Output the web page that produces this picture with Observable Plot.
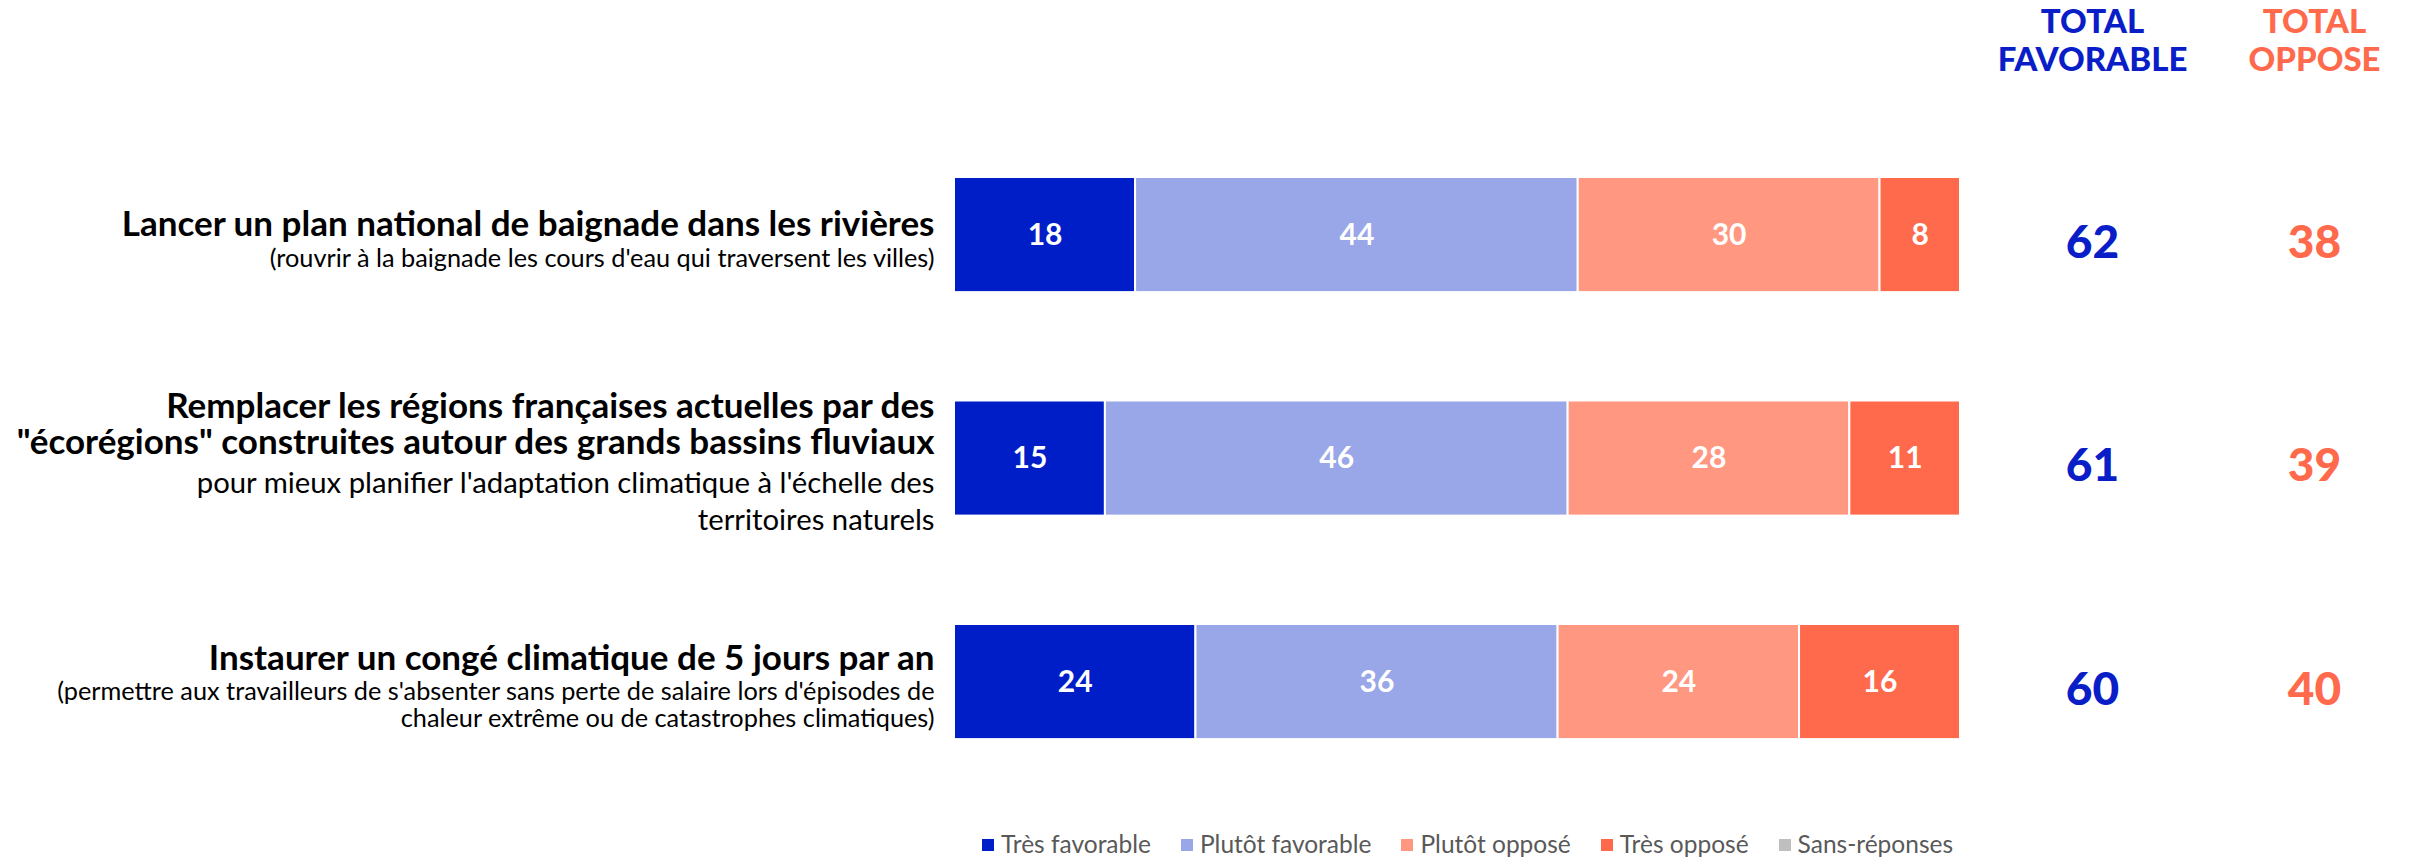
<!DOCTYPE html>
<html><head><meta charset="utf-8">
<script src="https://cdn.jsdelivr.net/npm/d3@7"></script>
<script src="https://cdn.jsdelivr.net/npm/@observablehq/plot@0.6"></script>
<style>
body{margin:0;background:#fff;}
#chart{width:2412px;}
.legend{display:flex;align-items:center;margin-left:982px;margin-top:9px;height:48px;font-family:Lato,sans-serif;font-weight:400;font-size:24.5px;color:#595959;}
.legend .item{display:flex;align-items:center;margin-right:30px;}
.legend .sw{width:12px;height:12px;margin-right:7px;margin-top:3px;}
</style></head><body><div id="chart"></div>
<script>
const questions = ["q1", "q2", "q3"];
const titles = [
  "Lancer un plan national de baignade dans les rivières",
  "Remplacer les régions françaises actuelles par des\n\"écorégions\" construites autour des grands bassins fluviaux",
  "Instaurer un congé climatique de 5 jours par an"
];
const subtitles = [
  "(rouvrir à la baignade les cours d'eau qui traversent les villes)",
  "pour mieux planifier l'adaptation climatique à l'échelle des\nterritoires naturels",
  "(permettre aux travailleurs de s'absenter sans perte de salaire lors d'épisodes de\nchaleur extrême ou de catastrophes climatiques)"
];
const categories = ["Très favorable", "Plutôt favorable", "Plutôt opposé", "Très opposé", "Sans-réponses"];
const colors = ["#001ec8", "#99a6e7", "#ff9781", "#ff6a4c", "#bfbfbf"];
const tresFavorable = [18, 15, 24];
const plutotFavorable = [44, 46, 36];
const plutotOppose = [30, 28, 24];
const tresOppose = [8, 11, 16];
const sansReponses = [0, 0, 0];
const headerFav = "TOTAL\nFAVORABLE";
const headerOpp = "TOTAL\nOPPOSE";

const series = [tresFavorable, plutotFavorable, plutotOppose, tresOppose, sansReponses];
const rows = questions.flatMap((q, i) => categories.map((c, j) => ({q, cat: c, value: series[j][i]}))).filter(d => d.value > 0);
const totalFav = questions.map((q, i) => tresFavorable[i] + plutotFavorable[i]);
const totalOpp = questions.map((q, i) => plutotOppose[i] + tresOppose[i]);

const lab = "Lato, 'Noto Sans', sans-serif";
const geo = "Lato, 'Noto Sans', sans-serif";
const BLUE = "#0a1ec8", ORANGE = "#ff6a4c";

const titleSize = 35, titleLH = 36.5;
const subSize = [25.3, 29.3, 25.3], subLH = [28, 37, 27];

const labelMarks = questions.flatMap((q, i) => {
  const nT = titles[i].split("\n").length, nS = subtitles[i].split("\n").length;
  const blockH = nT * titleLH + nS * subLH[i];
  const top = -blockH / 2 + 3;
  const tDy = top + nT * titleLH / 2;
  const sDy = top + nT * titleLH + nS * subLH[i] / 2 + 2;
  return [
    Plot.text([i], {frameAnchor: "left", y: d => questions[d], text: d => titles[d], textAnchor: "end", dx: -20, dy: tDy,
      lineAnchor: "middle", fontSize: titleSize, lineHeight: titleLH / titleSize, fontWeight: "bold", fontFamily: lab, fill: "#000"}),
    Plot.text([i], {frameAnchor: "left", y: d => questions[d], text: d => subtitles[d], textAnchor: "end", dx: -20, dy: sDy,
      lineAnchor: "middle", fontSize: subSize[i], lineHeight: subLH[i] / subSize[i], fontFamily: lab, fill: "#000"})
  ];
});

const chart = Plot.plot({
  width: 2412, height: 810,
  marginLeft: 954, marginRight: 452, marginTop: 132.3, marginBottom: 26.2,
  x: {domain: [0, 100], axis: null},
  y: {domain: questions, axis: null, paddingInner: 0.485, paddingOuter: 0.2, round: false},
  color: {domain: categories, range: colors},
  style: {background: "#fff"},
  marks: [
    Plot.barX(rows, Plot.stackX({x: "value", y: "q", z: "cat", fill: "cat", stroke: "#fff", strokeWidth: 2})),
    Plot.text(rows, Plot.stackX({x: "value", y: "q", z: "cat", text: d => String(d.value), fill: "#fff",
      fontSize: 30, fontWeight: "bold", fontFamily: lab})),
    ...labelMarks,
    Plot.text(questions, {frameAnchor: "right", y: d => d, text: (d, i) => String(totalFav[i]), dx: 132, dy: 8, textAnchor: "middle",
      fill: BLUE, fontSize: 46, fontWeight: 900, fontFamily: geo}),
    Plot.text(questions, {frameAnchor: "right", y: d => d, text: (d, i) => String(totalOpp[i]), dx: 354, dy: 8, textAnchor: "middle",
      fill: ORANGE, fontSize: 46, fontWeight: 900, fontFamily: geo}),
    Plot.text([headerFav], {frameAnchor: "top-right", text: d => d, dx: 132, dy: -93, lineAnchor: "middle", textAnchor: "middle",
      fill: BLUE, fontSize: 33, lineHeight: 1.15, fontWeight: 900, fontFamily: geo}),
    Plot.text([headerOpp], {frameAnchor: "top-right", text: d => d, dx: 354, dy: -93, lineAnchor: "middle", textAnchor: "middle",
      fill: ORANGE, fontSize: 33, lineHeight: 1.15, fontWeight: 900, fontFamily: geo})
  ]
});
document.getElementById("chart").appendChild(chart);

const legend = document.createElement("div");
legend.className = "legend";
categories.forEach((c, j) => {
  const item = document.createElement("div");
  item.className = "item";
  const sw = document.createElement("span");
  sw.className = "sw";
  sw.style.background = colors[j];
  const t = document.createElement("span");
  t.textContent = c;
  item.appendChild(sw); item.appendChild(t);
  legend.appendChild(item);
});
document.getElementById("chart").appendChild(legend);
</script></body></html>
